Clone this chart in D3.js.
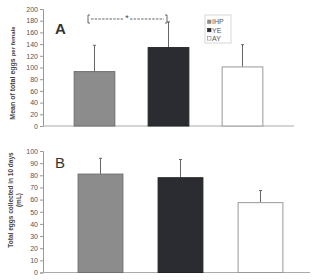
<!DOCTYPE html>
<html>
<head>
<meta charset="utf-8">
<script src="https://cdn.jsdelivr.net/npm/d3@7"></script>
<style>
body { margin: 0; background: #fff; }
svg { font-family: Arial, "Liberation Sans", sans-serif; }
.tick text { fill: #555; font-size: 7px; }
</style>
</head>
<body>
<div id="chart"></div>
<script>
var width = 313, height = 280;

// data
var groups = ["IHP", "YE", "AY"];
var eggsA = [93, 134, 101];
var errA = [45, 44, 38];
var eggsB = [81, 78, 57.5];
var errB = [13, 15, 10];
var ticksA = [0, 20, 40, 60, 80, 100, 120, 140, 160, 180, 200];
var ticksB = [0, 10, 20, 30, 40, 50, 60, 70, 80, 90, 100];

var fills = {IHP: "#8c8c8c", YE: "#2b2c31", AY: "#ffffff"};
var strokes = {IHP: "#6f6f6f", YE: "#222", AY: "#999"};

var svg = d3.select("#chart").append("svg")
	.attr("width", width)
	.attr("height", height);

function drawPanel(opt) {
	var y = d3.scaleLinear().domain([0, opt.max]).range([opt.y0, opt.y1]);
	var x = d3.scaleBand().domain(groups).range(opt.xr)
		.paddingInner(opt.pad).paddingOuter(opt.pad / 2);

	var g = svg.append("g");

	var ax = g.append("g")
		.attr("transform", "translate(" + opt.axisX + ",0)")
		.call(d3.axisLeft(y).tickValues(opt.ticks).tickSize(3).tickPadding(2));
	ax.select(".domain").attr("stroke", "#999");
	ax.selectAll(".tick line").attr("stroke", "#999");

	// x axis baseline
	g.append("line")
		.attr("x1", opt.axisX).attr("x2", opt.axisEnd)
		.attr("y1", y(0)).attr("y2", y(0))
		.attr("stroke", "#aaa");

	// error bars (upper only)
	g.selectAll(".err")
		.data(groups)
		.enter()
		.append("g")
		.each(function(d, i) {
			var cx = x(d) + x.bandwidth() / 2;
			var top = y(opt.values[i] + opt.errors[i]);
			d3.select(this).append("line")
				.attr("x1", cx).attr("x2", cx)
				.attr("y1", y(opt.values[i])).attr("y2", top)
				.attr("stroke", "#666").attr("stroke-width", 1);
			d3.select(this).append("line")
				.attr("x1", cx - 1.5).attr("x2", cx + 1.5)
				.attr("y1", top).attr("y2", top)
				.attr("stroke", "#666").attr("stroke-width", 1);
		});

	g.selectAll("rect.bar")
		.data(groups)
		.enter()
		.append("rect")
		.attr("class", "bar")
		.attr("x", function(d) { return x(d); })
		.attr("width", x.bandwidth())
		.attr("y", function(d, i) { return y(opt.values[i]); })
		.attr("height", function(d, i) { return y(0) - y(opt.values[i]); })
		.attr("fill", function(d) { return fills[d]; })
		.attr("stroke", function(d) { return strokes[d]; })
		.attr("stroke-width", 1);

	g.append("text")
		.text(opt.letter)
		.attr("x", 55)
		.attr("y", opt.letterY)
		.attr("font-size", "15px")
		.attr("font-weight", opt.letterBold ? "bold" : "normal")
		.attr("fill", "#333");

	return {x: x, y: y};
}

var pA = drawPanel({
	max: 200, y0: 126, y1: 9, ticks: ticksA, values: eggsA, errors: errA,
	xr: [57.5, 279.5], pad: 0.45, axisX: 43, axisEnd: 294,
	letter: "A", letterY: 34, letterBold: true
});

var pB = drawPanel({
	max: 100, y0: 272.5, y1: 151, ticks: ticksB, values: eggsB, errors: errB,
	xr: [60.5, 300.5], pad: 0.44, axisX: 43, axisEnd: 310,
	letter: "B", letterY: 168, letterBold: false
});

// y labels
svg.append("text")
	.attr("transform", "translate(15,73) rotate(-90)")
	.attr("text-anchor", "middle")
	.attr("font-size", "7px")
	.attr("font-weight", "bold")
	.attr("fill", "#444")
	.text("Mean of total eggs ")
	.append("tspan")
	.attr("font-size", "6px")
	.text("per female");

var lblB = svg.append("text")
	.attr("transform", "translate(13,200) rotate(-90)")
	.attr("text-anchor", "middle")
	.attr("font-size", "6.5px")
	.attr("font-weight", "bold")
	.attr("fill", "#444");
lblB.append("tspan").attr("x", 0).attr("dy", 0).text("Total eggs collected in 10 days");
lblB.append("tspan").attr("x", 0).attr("dy", 8).text("(mL)");

// significance bracket between IHP and YE
var br = svg.append("g").attr("stroke", "#555").attr("stroke-width", 0.9).attr("fill", "none");
br.append("path").attr("d", "M90,15 H88 V23 H90");
br.append("path").attr("d", "M165,15 H167 V23 H165");
br.append("line")
	.attr("x1", 91).attr("x2", 124).attr("y1", 19).attr("y2", 19)
	.attr("stroke-dasharray", "2.5,1.2");
br.append("line")
	.attr("x1", 130).attr("x2", 164).attr("y1", 19).attr("y2", 19)
	.attr("stroke-dasharray", "2.5,1.2");
svg.append("text")
	.attr("x", 127)
	.attr("y", 21)
	.attr("text-anchor", "middle")
	.attr("font-size", "9px")
	.attr("fill", "#444")
	.text("*");

// legend
var legend = svg.append("g").attr("transform", "translate(205,15)");
legend.append("rect")
	.attr("width", 26).attr("height", 28)
	.attr("fill", "#fff").attr("stroke", "#ccc").attr("stroke-width", 0.8);
groups.forEach(function(d, i) {
	legend.append("rect")
		.attr("x", 2.5).attr("y", 5 + i * 8.3)
		.attr("width", 3.5).attr("height", 3.5)
		.attr("fill", fills[d])
		.attr("stroke", d == "AY" ? "#888" : fills[d])
		.attr("stroke-width", 0.6);
	legend.append("text")
		.attr("x", 7).attr("y", 9.3 + i * 8.3)
		.attr("font-size", "7px")
		.attr("fill", "#555")
		.text(d);
});
</script>
</body>
</html>
